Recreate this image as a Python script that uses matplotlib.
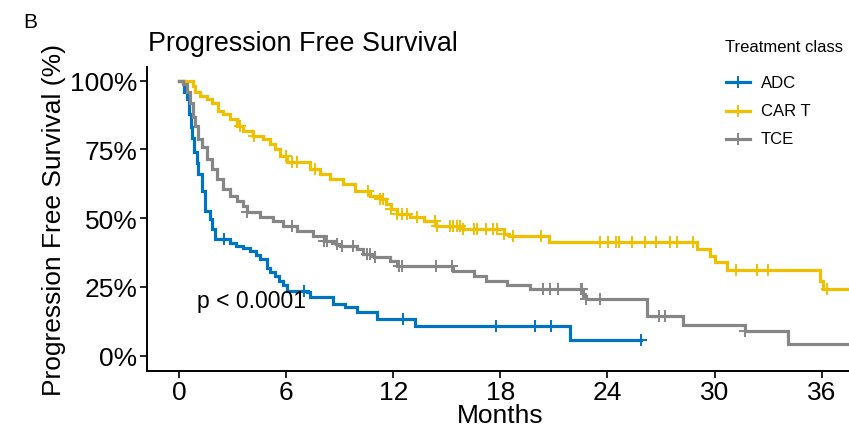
import numpy as np
import matplotlib
matplotlib.use("Agg")
import matplotlib.pyplot as plt
from matplotlib.lines import Line2D
from matplotlib.ticker import FuncFormatter

plt.rcParams['font.family'] = ['Liberation Sans', 'DejaVu Sans']

# step curves: time of each drop (months) and survival after it
adc_t = [0, 0.3, 0.43, 0.55, 0.65, 0.71, 0.85, 1.0, 1.08, 1.3, 1.46, 1.74, 1.85, 2.0, 2.86, 3.2, 3.6,
         3.98, 4.3, 4.54, 4.9, 5.1, 5.38, 5.6, 5.84, 6.03, 7.15, 7.34, 8.63, 9.3, 9.96, 11.07, 13.2, 21.9]
adc_s = [1.0, 0.96, 0.933, 0.88, 0.83, 0.79, 0.74, 0.70, 0.66, 0.60, 0.527, 0.497, 0.46, 0.424, 0.41, 0.40, 0.39,
         0.382, 0.365, 0.352, 0.32, 0.305, 0.29, 0.272, 0.255, 0.236, 0.23, 0.212, 0.188, 0.175, 0.158, 0.133, 0.109, 0.055]
adc_cens = [2.5, 7.0, 12.53, 17.74, 19.94, 20.83, 25.9]
adc_end = 25.9

cart_t = [0, 0.78, 0.9, 1.18, 1.55, 1.83, 2.2, 2.48, 2.86, 3.23, 3.6, 4.16, 4.72, 5.1, 5.38, 5.66, 6.03, 7.34,
          7.9, 8.46, 9.2, 9.86, 10.7, 11.26, 11.6, 11.9, 12.2, 12.94, 13.7, 14.4, 15.9, 18.2, 18.5, 20.7, 29.0,
          29.75, 30.0, 30.7, 35.9, 36.1]
cart_s = [1.0, 0.98, 0.958, 0.945, 0.933, 0.92, 0.89, 0.88, 0.86, 0.836, 0.818, 0.80, 0.788, 0.77, 0.752, 0.727,
          0.703, 0.68, 0.66, 0.643, 0.624, 0.60, 0.582, 0.57, 0.552, 0.533, 0.515, 0.503, 0.491, 0.473, 0.461,
          0.443, 0.436, 0.412, 0.388, 0.364, 0.34, 0.31, 0.273, 0.243]
cart_cens = [3.4, 4.2, 6.0, 6.3, 6.6, 7.6, 10.6, 11.26, 11.4, 11.9, 12.2, 12.5, 12.76, 13.35, 14.34, 14.43,
             15.18, 15.37, 15.55, 15.74, 15.9, 16.5, 16.7, 17.2, 17.6, 17.8, 18.2, 18.7, 20.3, 23.6, 24.05, 24.5,
             24.67, 25.4, 26.1, 26.7, 27.5, 27.9, 28.8, 31.2, 32.4, 33.0, 36.3]
cart_end = 38.5

tce_t = [0, 0.24, 0.43, 0.62, 0.8, 0.9, 1.08, 1.27, 1.55, 1.83, 2.1, 2.48, 2.86, 3.23, 3.6, 3.8, 4.54, 5.28,
         5.84, 6.6, 7.5, 8.1, 8.8, 9.0, 9.96, 10.3, 10.9, 11.8, 12.2, 15.37, 16.5, 17.2, 18.36, 19.66, 22.65,
         22.8, 26.2, 28.25, 31.7, 34.1]
tce_s = [1.0, 0.988, 0.958, 0.92, 0.867, 0.836, 0.788, 0.758, 0.715, 0.679, 0.643, 0.606, 0.582, 0.564, 0.545,
         0.521, 0.503, 0.491, 0.473, 0.455, 0.436, 0.418, 0.406, 0.40, 0.388, 0.37, 0.358, 0.345, 0.327, 0.309,
         0.291, 0.273, 0.255, 0.243, 0.218, 0.206, 0.145, 0.112, 0.088, 0.0425]
tce_cens = [3.8, 6.3, 8.1, 8.3, 8.83, 9.1, 9.77, 10.5, 10.7, 11.0, 12.3, 12.5, 14.4, 15.3, 20.4, 20.8, 21.25,
            22.5, 22.6, 22.8, 23.6, 26.9, 27.2, 31.7]
tce_end = 38.5

groups = ["ADC", "CAR T", "TCE"]
colors = ["#0073C2", "#EFC000", "#868686"]

W, H = 849, 431
fig = plt.figure(figsize=(W / 100, H / 100), dpi=100)
fig.patch.set_facecolor("white")

# panel in pixel terms, the right side runs past the image edge (cropped like the original)
left, right, top, bottom = 147, 853.7, 68, 371.7
ax = fig.add_axes([left / W, 1 - bottom / H, (right - left) / W, (bottom - top) / H])

series = [(adc_t, adc_s, adc_cens, adc_end),
          (cart_t, cart_s, cart_cens, cart_end),
          (tce_t, tce_s, tce_cens, tce_end)]

for (t, s, cens, end), col in zip(series, colors):
    tx = np.array(t + [end])
    sy = np.array(s + [s[-1]])
    ax.step(tx, sy, where="post", color=col, lw=2.3, solid_joinstyle="miter")
    cens = np.array(cens)
    idx = np.searchsorted(np.array(t), cens, side="right") - 1
    ax.plot(cens, np.array(s)[idx], ls="none", marker="+", ms=8, mew=1.4, color=col)

ax.set_xlim(-1.8, 37.8)
ax.set_ylim(-0.055, 1.05)
ax.set_xticks(np.arange(0, 37, 6))
ax.set_yticks([0, 0.25, 0.5, 0.75, 1.0])
ax.yaxis.set_major_formatter(FuncFormatter(lambda v, p: f"{v * 100:.0f}%"))
ax.tick_params(labelsize=19, length=5, width=1.2, colors="black", pad=2)
for side in ["top", "right"]:
    ax.spines[side].set_visible(False)
for side in ["left", "bottom"]:
    ax.spines[side].set_linewidth(1.4)

ax.set_xlabel("Months", fontsize=19, labelpad=-1)
ax.set_ylabel("Progression Free Survival (%)", fontsize=19, labelpad=3)
ax.text(1.0, 0.2, "p < 0.0001", fontsize=16.5, ha="left", va="center")

fig.text(148 / W, 1 - 44 / H, "Progression Free Survival", fontsize=19.4, ha="left", va="center")
fig.text(23 / W, 1 - 22.5 / H, "B", fontsize=15, ha="left", va="center")

# legend laid out by hand to match the ggplot key spacing
fig.text(725 / W, 1 - 48 / H, "Treatment class", fontsize=12, ha="left", va="center")
for i, (g, c) in enumerate(zip(groups, colors)):
    yy = 1 - (83.3 + i * 28.3) / H
    fig.add_artist(Line2D([726 / W, 750 / W], [yy, yy], color=c, lw=2.3))
    fig.add_artist(Line2D([738 / W], [yy], color=c, marker="+", ms=8, mew=1.4, ls="none"))
    fig.text(761 / W, yy, g, fontsize=12, ha="left", va="center")

fig.savefig("out.png", dpi=100)
